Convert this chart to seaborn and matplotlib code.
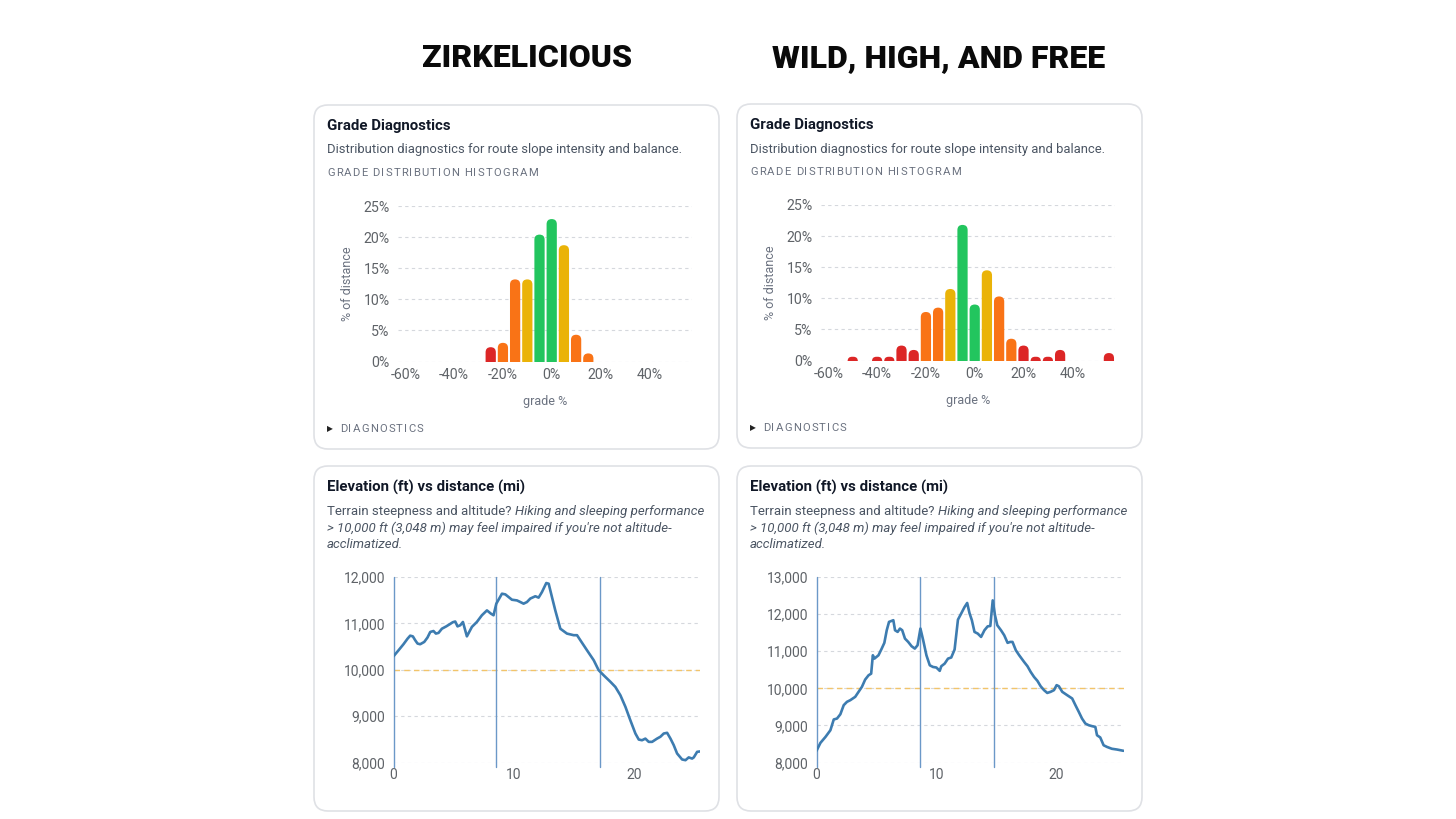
import matplotlib
matplotlib.use("Agg")
import matplotlib.pyplot as plt
import seaborn as sns
from matplotlib.patches import FancyBboxPatch
from matplotlib.ticker import FuncFormatter

# ---- data ----
route_names = ["ZIRKELICIOUS", "WILD, HIGH, AND FREE"]

grade_bins_zirk = [-25, -20, -15, -10, -5, 0, 5, 10, 15]
grade_pct_zirk = [2.3, 3.0, 13.2, 13.2, 20.4, 22.9, 18.7, 4.3, 1.3]

grade_bins_wild = [-50, -40, -35, -30, -25, -20, -15, -10, -5, 0, 5, 10, 15, 20, 25, 30, 35, 55]
grade_pct_wild = [0.6, 0.6, 0.6, 2.4, 1.7, 7.8, 8.5, 11.5, 21.8, 9.0, 14.5, 10.3, 3.5, 2.4, 0.6, 0.6, 1.7, 1.2]

grade_ticks = [-60, -40, -20, 0, 20, 40]
grade_tick_labels = ["-60%", "-40%", "-20%", "0%", "20%", "40%"]
pct_ticks = [0, 5, 10, 15, 20, 25]
pct_tick_labels = ["0%", "5%", "10%", "15%", "20%", "25%"]

dist_zirk = [0.00, 0.42, 0.83, 1.17, 1.39, 1.61, 1.81, 2.00, 2.22, 2.56,
             2.83, 3.06, 3.33, 3.53, 3.75, 4.03, 4.39, 4.67, 4.94, 5.14,
             5.33, 5.56, 5.78, 6.11, 6.53, 6.94, 7.36, 7.78, 8.11, 8.33,
             8.56, 9.03, 9.31, 9.86, 10.28, 10.56, 10.83, 11.11, 11.39, 11.81,
             12.08, 12.36, 12.72, 12.92, 13.19, 13.47, 13.89, 14.44, 15.00, 15.28,
             15.56, 16.11, 16.67, 17.08, 17.50, 18.06, 18.47, 18.89, 19.31, 19.72,
             20.14, 20.42, 20.69, 20.97, 21.25, 21.53, 21.94, 22.22, 22.50, 22.78,
             23.06, 23.33, 23.61, 24.03, 24.31, 24.58, 24.86, 25.00, 25.28, 25.56]
elev_zirk = [10290, 10420, 10550, 10670, 10735, 10720, 10635, 10565, 10550, 10600,
             10695, 10815, 10835, 10780, 10795, 10885, 10935, 10980, 11025, 11040,
             10935, 10960, 11030, 10720, 10925, 11030, 11175, 11280, 11210, 11175,
             11425, 11640, 11625, 11510, 11495, 11460, 11425, 11460, 11535, 11585,
             11555, 11675, 11870, 11855, 11570, 11280, 10885, 10780, 10745, 10745,
             10635, 10420, 10205, 9990, 9880, 9740, 9630, 9450, 9200, 8910,
             8625, 8495, 8480, 8515, 8445, 8445, 8515, 8555, 8625, 8640,
             8515, 8375, 8195, 8065, 8050, 8110, 8085, 8110, 8230, 8240]
day_marks_zirk = [0, 8.55, 17.2]

dist_wild = [0.00, 0.33, 0.75, 1.16, 1.44, 1.71, 1.99, 2.27, 2.54, 2.82,
             3.23, 3.51, 3.79, 4.06, 4.34, 4.56, 4.70, 4.83, 5.17, 5.44,
             5.66, 5.86, 6.05, 6.41, 6.55, 6.77, 6.96, 7.15, 7.38, 7.65,
             7.93, 8.20, 8.43, 8.67, 8.90, 9.17, 9.45, 9.72, 10.00, 10.28,
             10.41, 10.69, 10.97, 11.24, 11.52, 11.80, 12.07, 12.35, 12.57, 12.76,
             12.96, 13.18, 13.45, 13.73, 14.01, 14.28, 14.50, 14.70, 14.89, 15.08,
             15.39, 15.66, 15.94, 16.16, 16.35, 16.63, 16.91, 17.32, 17.60, 17.87,
             18.15, 18.43, 18.70, 18.98, 19.25, 19.53, 19.81, 20.03, 20.22, 20.50,
             20.91, 21.33, 21.60, 21.88, 22.15, 22.43, 22.71, 22.98, 23.26, 23.40,
             23.67, 23.95, 24.23, 24.64, 25.06, 25.61]
elev_wild = [8315, 8530, 8690, 8870, 9160, 9185, 9300, 9545, 9635, 9680,
             9770, 9905, 10040, 10235, 10350, 10395, 10890, 10800, 10890, 11070,
             11225, 11565, 11790, 11835, 11565, 11520, 11610, 11565, 11340, 11250,
             11135, 11070, 11160, 11610, 11295, 10890, 10620, 10575, 10560, 10470,
             10595, 10665, 10800, 10830, 11045, 11850, 12015, 12190, 12300, 12030,
             11835, 11520, 11475, 11385, 11565, 11670, 11680, 12370, 11970, 11700,
             11565, 11430, 11225, 11250, 11250, 11025, 10890, 10710, 10595, 10440,
             10305, 10200, 10055, 9950, 9875, 9905, 9950, 10085, 10055, 9905,
             9815, 9725, 9545, 9365, 9185, 9050, 9005, 8980, 8960, 8735,
             8675, 8465, 8420, 8370, 8350, 8315]
day_marks_wild = [0, 8.62, 14.78]

altitude_threshold = 10000
elev_ylim_zirk = (8000, 12000)
elev_ylim_wild = (8000, 13000)

grade_palette = {"easy": "#22c55e", "moderate": "#eab308", "steep": "#f97316", "extreme": "#dc2626"}

# ---- styling ----
TXT_DARK = "#111827"
TXT_MID = "#4b5563"
TXT_LIGHT = "#6b7280"
TICK = "#5f6368"
GRID = "#d5d8dd"
LINE = "#3d7cb0"
DAYLINE = "#6b98c8"
THRESH = "#f2c46a"


def grade_class(g):
    d = abs(g + 2.5)
    if d <= 2.5:
        return "easy"
    if d <= 7.5:
        return "moderate"
    if d <= 17.5:
        return "steep"
    return "extreme"


sns.set_theme(style="white")
plt.rcParams['font.family'] = ['Roboto', 'DejaVu Sans']
plt.rcParams['axes.unicode_minus'] = False

W, H = 1456, 819
fig = plt.figure(figsize=(W / 100, H / 100), dpi=100)
fig.patch.set_facecolor("white")
bg = fig.add_axes([0, 0, 1, 1], zorder=0)
bg.set_xlim(0, W)
bg.set_ylim(H, 0)
bg.axis("off")
renderer = fig.canvas.get_renderer()


def px_axes(x0, y0, x1, y1):
    ax = fig.add_axes([x0 / W, 1 - y1 / H, (x1 - x0) / W, (y1 - y0) / H], zorder=2)
    ax.patch.set_alpha(0)
    return ax


def card(x0, y0, x1, y1):
    bg.add_patch(FancyBboxPatch((x0, y0), x1 - x0, y1 - y0,
                                boxstyle="round,pad=0,rounding_size=14",
                                fc="white", ec="#dfe1e5", lw=1.2))


def spaced_text(x, y, s, spacing=1.0, **kw):
    size_px = kw.get("fontsize", 8) / 0.72
    for ch in s:
        if ch == " ":
            x += size_px * 0.26 + spacing
            continue
        t = bg.text(x, y, ch, ha="left", va="center", **kw)
        x += t.get_window_extent(renderer).width + spacing


def round_bar_tops(ax, radius_px=5.5):
    x0, x1 = ax.get_xlim()
    y0, y1 = ax.get_ylim()
    sx = ax.bbox.width / (x1 - x0)
    sy = ax.bbox.height / (y1 - y0)
    for bar in list(ax.patches):
        bx, bw, bh = bar.get_x(), bar.get_width(), bar.get_height()
        fc = bar.get_facecolor()
        r_px = min(bw * sx / 2, radius_px)
        ext = r_px / sy
        r_px = min(r_px, (bh * sy + r_px) / 2)
        bar.remove()
        ax.add_patch(FancyBboxPatch((bx, -ext), bw, bh + ext,
                                    boxstyle=f"round,pad=0,rounding_size={r_px / sx}",
                                    mutation_aspect=sx / sy, fc=fc, ec="none", zorder=3))


def hist_card(cx, cy, bins, pcts):
    card(cx, cy, cx + 405, cy + 344)
    bg.text(cx + 13, cy + 21, "Grade Diagnostics", ha="left", va="center",
            fontsize=10.8, fontweight="bold", color=TXT_DARK)
    bg.text(cx + 13, cy + 45, "Distribution diagnostics for route slope intensity and balance.",
            ha="left", va="center", fontsize=9.4, color=TXT_MID)
    spaced_text(cx + 13, cy + 68, "GRADE DISTRIBUTION HISTOGRAM", spacing=1.2,
                fontsize=8.1, color=TXT_LIGHT)

    ax = px_axes(cx + 84, cy + 101, cx + 378, cy + 256.5)
    classes = [grade_class(g) for g in bins]
    sns.barplot(x=bins, y=pcts, hue=classes, palette=grade_palette, native_scale=True,
                dodge=False, width=0.84, saturation=1, legend=False, ax=ax)
    ax.set_xlim(-63, 57.5)
    ax.set_ylim(0, 25)
    ax.set_xticks(grade_ticks)
    ax.set_xticklabels(grade_tick_labels)
    ax.set_yticks(pct_ticks)
    ax.set_yticklabels(pct_tick_labels)
    ax.grid(axis="y", color=GRID, lw=0.8, ls=(0, (3, 3)))
    ax.set_axisbelow(True)
    sns.despine(ax=ax, left=True, bottom=True)
    ax.tick_params(length=0, labelsize=10.2, colors=TICK)
    ax.tick_params(axis="y", pad=6)
    ax.tick_params(axis="x", pad=5)
    ax.set_xlabel("grade %", fontsize=9, color=TXT_LIGHT, labelpad=9)
    ax.set_ylabel("% of distance", fontsize=9, color=TXT_LIGHT, labelpad=7)
    round_bar_tops(ax)

    bg.text(cx + 13, cy + 324, "\u25B6", ha="left", va="center", fontsize=5.5,
            color="#222222", family="DejaVu Sans")
    spaced_text(cx + 26, cy + 324, "DIAGNOSTICS", spacing=1.2, fontsize=8.1, color=TXT_LIGHT)


def elev_card(cx, cy, dist, elev, marks, ylim):
    card(cx, cy, cx + 405, cy + 345)
    bg.text(cx + 13, cy + 21, "Elevation (ft) vs distance (mi)", ha="left", va="center",
            fontsize=10.8, fontweight="bold", color=TXT_DARK)
    t = bg.text(cx + 13, cy + 45, "Terrain steepness and altitude?", ha="left", va="center",
                fontsize=9.5, color=TXT_MID)
    w = t.get_window_extent(renderer).width
    bg.text(cx + 13 + w + 3.5, cy + 45, "Hiking and sleeping performance", ha="left",
            va="center", fontsize=9.5, color=TXT_MID, style="italic")
    bg.text(cx + 13, cy + 62, "> 10,000 ft (3,048 m) may feel impaired if you're not altitude-",
            ha="left", va="center", fontsize=9.5, color=TXT_MID, style="italic")
    bg.text(cx + 13, cy + 79, "acclimatized.", ha="left", va="center", fontsize=9.5,
            color=TXT_MID, style="italic")

    ax = px_axes(cx + 79.5, cy + 111, cx + 386.5, cy + 296.5)
    sns.lineplot(x=dist, y=elev, color=LINE, lw=1.9, ax=ax, zorder=4)
    for m in marks:
        ax.axvline(m, ymin=-0.025, color=DAYLINE, lw=1.0, zorder=3, clip_on=False)
    ax.axhline(altitude_threshold, color=THRESH, lw=1.0, ls=(0, (4, 3)), zorder=2)
    ax.set_xlim(0, dist[-1])
    ax.set_ylim(*ylim)
    ax.set_xticks([0, 10, 20])
    ax.set_yticks(range(ylim[0], ylim[1] + 1, 1000))
    ax.yaxis.set_major_formatter(FuncFormatter(lambda v, p: f"{v:,.0f}"))
    ax.grid(axis="y", color=GRID, lw=0.8, ls=(0, (3, 3)))
    ax.grid(axis="x", visible=False)
    ax.set_axisbelow(True)
    sns.despine(ax=ax, left=True, bottom=True)
    ax.tick_params(length=0, labelsize=10, colors=TICK)
    ax.tick_params(axis="y", pad=6)
    ax.tick_params(axis="x", pad=4)
    ax.set_xlabel("")
    ax.set_ylabel("")


# route titles
bg.text(527, 58, route_names[0], ha="center", va="center", fontsize=23,
        fontweight="black", color="#0a0a0a")
bg.text(939, 58, route_names[1], ha="center", va="center", fontsize=23,
        fontweight="black", color="#0a0a0a")

hist_card(314, 105, grade_bins_zirk, grade_pct_zirk)
hist_card(737, 104, grade_bins_wild, grade_pct_wild)
elev_card(314, 466, dist_zirk, elev_zirk, day_marks_zirk, elev_ylim_zirk)
elev_card(737, 466, dist_wild, elev_wild, day_marks_wild, elev_ylim_wild)

fig.savefig("out.png", dpi=100, facecolor="white")
